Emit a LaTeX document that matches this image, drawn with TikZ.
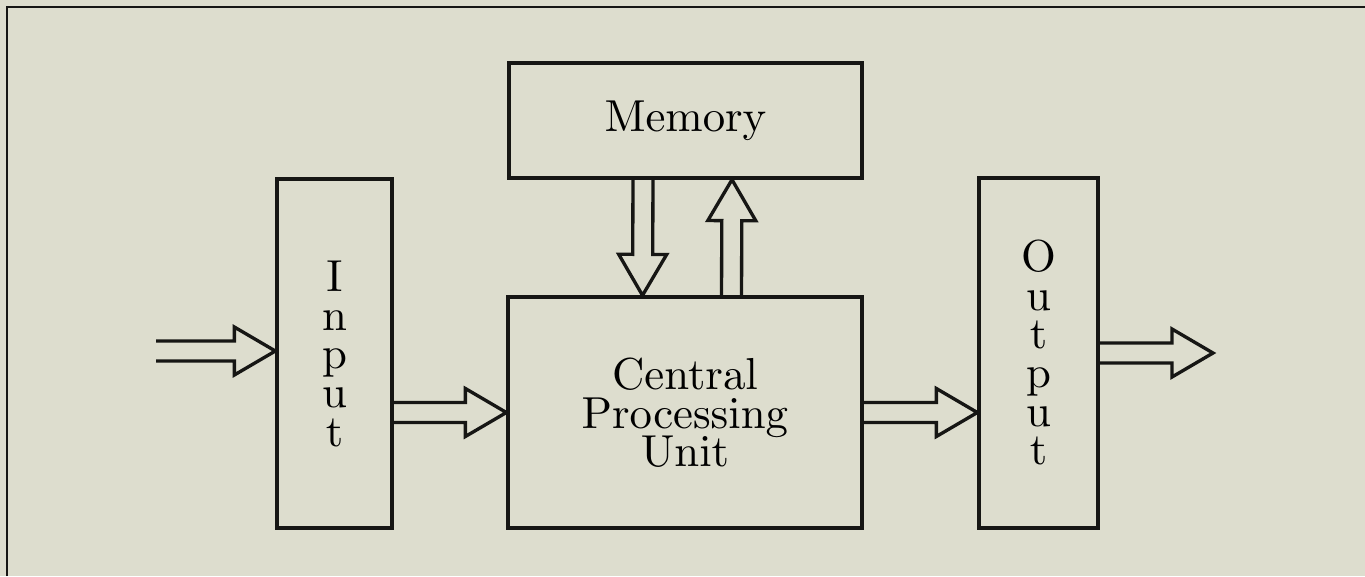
\documentclass[tikz,border=0pt]{standalone}
\usepackage{tikz}
\usetikzlibrary{calc}
\font\cmbig=cmr10 at 25.5pt
\definecolor{paper}{RGB}{221,221,206}
\definecolor{ink}{RGB}{22,22,20}
\tikzstyle{block}=[draw=ink,line width=1.9pt,inner sep=0pt,align=center,font=\cmbig,execute at begin node={\baselineskip=22pt\lineskiplimit=-10pt\relax}]
\tikzstyle{bus}=[draw=ink,line width=1.9pt,to path={coordinate (h) at ($(\tikztotarget)!0.82cm!(\tikztostart)$)
    ($(\tikztostart)!0.2cm!90:(\tikztotarget)$) -- ($(h)!0.2cm!90:(\tikztotarget)$) -- ($(h)!0.48cm!90:(\tikztotarget)$)
    -- (\tikztotarget) -- ($(h)!0.48cm!270:(\tikztotarget)$) -- ($(h)!0.2cm!270:(\tikztotarget)$) -- ($(\tikztostart)!0.2cm!270:(\tikztotarget)$)}]

\begin{document}
\begin{tikzpicture}[x=0.02cm,y=-0.02cm]

    \useasboundingbox (0,0) rectangle (1365,576);
    \fill[paper] (0,0) rectangle (1365,576);
    \draw[ink,line width=1.6pt] (7,576) -- (7,7) -- (1365,7);

    \node[block, minimum width=2.3cm, minimum height=6.98cm] (input) at (334.5,353.5) {I\\n\\p\\u\\t};
    \node[block, minimum width=7.06cm, minimum height=2.3cm] (memory) at (685.5,120.5) {Memory};
    \node[block, minimum width=7.08cm, minimum height=4.62cm] (cpu) at (685,412.5) {Central\\Processing\\Unit};
    \node[block, minimum width=2.38cm, minimum height=7cm] (output) at (1038.5,353) {O\\u\\t\\p\\u\\t};

    \coordinate (src) at (156,351);
    \coordinate (snk) at (1213,353);
    \path (src -| input.west) coordinate (a1)
          (input.east |- cpu.west) coordinate (a2)
          (cpu.east -| output.west) coordinate (a3)
          ([xshift=-0.85cm]memory.south) coordinate (m1)
          ([xshift=-0.85cm]cpu.north) coordinate (c1)
          ([xshift=0.93cm]cpu.north) coordinate (c2)
          ([xshift=0.93cm]memory.south) coordinate (m2);

    \foreach \source/\dest in {src/a1, a2/cpu.west, cpu.east/a3, output.east/snk, m1/c1, c2/m2}
        \draw[bus] (\source) to (\dest);

\end{tikzpicture}
\end{document}
